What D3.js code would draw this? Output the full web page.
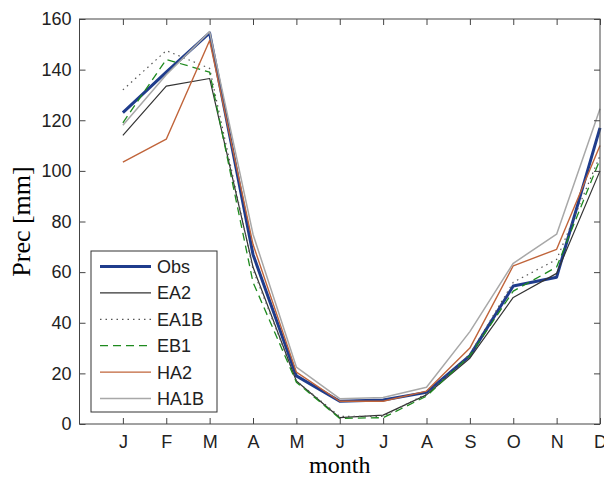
<!DOCTYPE html>
<html>
<head>
<meta charset="utf-8">
<script src="https://cdn.jsdelivr.net/npm/d3@7"></script>
<style>
  body { margin: 0; background: #fff; }
  svg { display: block; }
</style>
</head>
<body>
<div id="chart"></div>
<script>
var months = ['J', 'F', 'M', 'A', 'M', 'J', 'J', 'A', 'S', 'O', 'N', 'D'];
var yTicks = [0, 20, 40, 60, 80, 100, 120, 140, 160];

var obs  = [123, 139, 154.5, 67, 19, 9, 9.5, 12.5, 27, 54.5, 58, 117];
var ea2  = [114, 133.5, 136.5, 62, 17, 2.5, 3.5, 11.5, 26, 50, 59.5, 100];
var ea1b = [132, 147.5, 140.5, 61, 17, 3, 3, 12, 27.5, 56, 65, 106];
var eb1  = [119, 144, 139, 56, 16.5, 2.2, 2.5, 11, 27, 52.5, 62, 104.5];
var ha2  = [103.5, 112.5, 151.5, 71, 20.5, 9, 9, 13, 30, 62.5, 69, 110];
var ha1b = [118, 138, 155, 75, 22.5, 10, 10.5, 14.5, 36.5, 63.5, 75, 124.5];

var seriesNames = ['Obs', 'EA2', 'EA1B', 'EB1', 'HA2', 'HA1B'];
var seriesData = [obs, ea2, ea1b, eb1, ha2, ha1b];

var styles = {
    Obs:  {color: '#1f3c8c', width: 3, dash: null},
    EA2:  {color: '#333333', width: 1.2, dash: null},
    EA1B: {color: '#555555', width: 1.2, dash: '1.5,4'},
    EB1:  {color: '#1e8a1e', width: 1.3, dash: '8,5'},
    HA2:  {color: '#c0643a', width: 1.4, dash: null},
    HA1B: {color: '#a8a8a8', width: 1.5, dash: null}
};

var width = 604,
    height = 477,
    margin = {left: 79.5, right: 4, top: 19, bottom: 53};

var svg = d3.select('#chart')
    .append('svg')
    .attr('width', width)
    .attr('height', height);

var x = d3.scaleLinear()
    .domain([0, 12])
    .range([margin.left, width - margin.right]);

var y = d3.scaleLinear()
    .domain([0, 160])
    .range([height - margin.bottom, margin.top]);

var axisColor = '#444';
var tickLen = 6;

// lines
var line = d3.line()
    .x(function (d, i) { return x(i + 1); })
    .y(function (d) { return y(d); });

seriesNames.forEach(function (name, k) {
    var s = styles[name];
    svg.append('path')
        .datum(seriesData[k])
        .attr('d', line)
        .attr('fill', 'none')
        .attr('stroke', s.color)
        .attr('stroke-width', s.width)
        .attr('stroke-dasharray', s.dash)
        .attr('stroke-linejoin', 'round');
});

// box
svg.append('rect')
    .attr('x', x(0))
    .attr('y', y(160))
    .attr('width', x(12) - x(0))
    .attr('height', y(0) - y(160))
    .attr('fill', 'none')
    .attr('stroke', axisColor)
    .attr('stroke-width', 1);

// axes
var xBottom = svg.append('g')
    .attr('transform', 'translate(0,' + y(0) + ')')
    .call(d3.axisBottom(x)
        .tickValues(d3.range(1, 13))
        .tickFormat(function (d) { return months[d - 1]; })
        .tickSizeInner(-tickLen)
        .tickSizeOuter(0)
        .tickPadding(11));

var xTop = svg.append('g')
    .attr('transform', 'translate(0,' + y(160) + ')')
    .call(d3.axisTop(x)
        .tickValues(d3.range(1, 13))
        .tickFormat('')
        .tickSizeInner(-tickLen)
        .tickSizeOuter(0));

var yLeft = svg.append('g')
    .attr('transform', 'translate(' + x(0) + ',0)')
    .call(d3.axisLeft(y)
        .tickValues(yTicks)
        .tickSizeInner(-tickLen)
        .tickSizeOuter(0)
        .tickPadding(8));

var yRight = svg.append('g')
    .attr('transform', 'translate(' + x(12) + ',0)')
    .call(d3.axisRight(y)
        .tickValues(yTicks)
        .tickFormat('')
        .tickSizeInner(-tickLen)
        .tickSizeOuter(0));

[xBottom, xTop, yLeft, yRight].forEach(function (g) {
    g.select('.domain').remove();
    g.selectAll('line').attr('stroke', axisColor);
    g.selectAll('text')
        .attr('fill', '#222')
        .style('font-family', 'Arial, "Liberation Sans", sans-serif')
        .style('font-size', '18px');
});

// axis labels
svg.append('text')
    .attr('x', (x(0) + x(12)) / 2)
    .attr('y', 473)
    .attr('text-anchor', 'middle')
    .style('font-family', '"Times New Roman", "Liberation Serif", serif')
    .style('font-size', '24px')
    .attr('fill', '#000')
    .text('month');

svg.append('text')
    .attr('transform', 'translate(30,' + y(80) + ') rotate(-90)')
    .attr('text-anchor', 'middle')
    .style('font-family', '"Times New Roman", "Liberation Serif", serif')
    .style('font-size', '26px')
    .attr('fill', '#000')
    .text('Prec [mm]');

// legend
var legend = svg.append('g')
    .attr('transform', 'translate(91,251)');

legend.append('rect')
    .attr('width', 126)
    .attr('height', 161)
    .attr('fill', '#fff')
    .attr('stroke', '#333')
    .attr('stroke-width', 1);

seriesNames.forEach(function (name, i) {
    var s = styles[name];
    var ly = 15.5 + i * 26.4;
    legend.append('line')
        .attr('x1', 9)
        .attr('x2', 60)
        .attr('y1', ly)
        .attr('y2', ly)
        .attr('stroke', s.color)
        .attr('stroke-width', s.width)
        .attr('stroke-dasharray', s.dash);
    legend.append('text')
        .attr('x', 66)
        .attr('y', ly)
        .attr('dy', '0.36em')
        .style('font-family', 'Arial, "Liberation Sans", sans-serif')
        .style('font-size', '18px')
        .attr('fill', '#222')
        .text(name);
});
</script>
</body>
</html>
